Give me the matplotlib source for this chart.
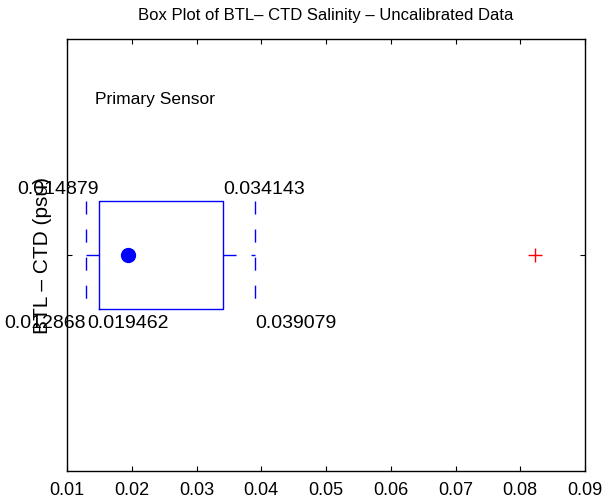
import matplotlib
matplotlib.use('Agg')
import matplotlib.pyplot as plt

plt.rcParams['font.family'] = ['Liberation Sans', 'DejaVu Sans']

# box plot statistics (psu)
lowerWhisker = 0.012868
q1 = 0.014879
median = 0.019462
q3 = 0.034143
upperWhisker = 0.039079
outliers = [0.0823]
xticks = [0.01, 0.02, 0.03, 0.04, 0.05, 0.06, 0.07, 0.08, 0.09]

pos = 1.0
half = 0.125
dash = (0, (9.4, 10.8))
blue = (0, 0, 1)

fig = plt.figure(figsize=(6.05, 5.04), dpi=100)
ax = fig.add_axes([67 / 605, 33 / 504, 518 / 605, 432 / 504])

# box
ax.plot([q1, q3, q3, q1, q1], [pos - half, pos - half, pos + half, pos + half, pos - half],
        color=blue, lw=1)
# whiskers, drawn outward from the box
ax.plot([q1, lowerWhisker], [pos, pos], color=blue, lw=1, linestyle=dash)
ax.plot([q3, upperWhisker], [pos, pos], color=blue, lw=1, linestyle=dash)
# whisker caps
for w in [lowerWhisker, upperWhisker]:
    ax.plot([w, w], [pos + half, pos - half], color=blue, lw=1, linestyle=dash)
# median
ax.plot([median], [pos], 'o', color=blue, markersize=10)
# outliers
ax.plot(outliers, [pos] * len(outliers), '+', color='red', markersize=10, mew=1)

fs = 14
ax.text(q1, pos + half + 0.008, '%.6f' % q1, ha='right', va='bottom', fontsize=fs)
ax.text(q3, pos + half + 0.008, '%.6f' % q3, ha='left', va='bottom', fontsize=fs)
ax.text(lowerWhisker, pos - half - 0.013, '%.6f' % lowerWhisker, ha='right', va='top', fontsize=fs)
ax.text(median, pos - half - 0.013, '%.6f' % median, ha='center', va='top', fontsize=fs)
ax.text(upperWhisker, pos - half - 0.013, '%.6f' % upperWhisker, ha='left', va='top', fontsize=fs)

ax.text(0.054, 0.859, 'Primary Sensor', transform=ax.transAxes, ha='left', va='center', fontsize=12.5)

ax.set_xlim(0.01, 0.09)
ax.set_ylim(0.5, 1.5)
ax.set_xticks(xticks)
ax.set_xticklabels(['%.2f' % t for t in xticks])
ax.set_yticks([pos])
ax.set_yticklabels([''])
ax.tick_params(direction='in', length=3.5, top=True, right=True, labelsize=13, pad=8)
for s in ax.spines.values():
    s.set_linewidth(1)

ax.set_ylabel('BTL \u2013 CTD (psu)', fontsize=15)
ax.yaxis.label.set_va('center')
ax.yaxis.set_label_coords(-0.048, 0.5)
ax.set_title('Box Plot of BTL\u2013 CTD Salinity \u2013 Uncalibrated Data', fontsize=12, pad=14)

fig.savefig('out.png', dpi=100)
